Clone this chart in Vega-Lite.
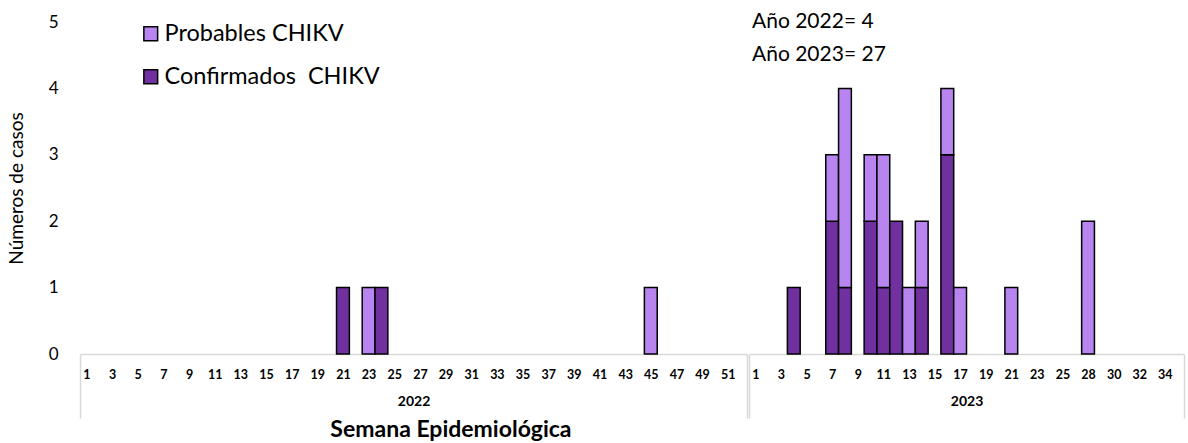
{
  "$schema": "https://vega.github.io/schema/vega-lite/v6.json",
  "padding": {"left": 7, "top": 11, "right": 3, "bottom": 2},
  "config": {"font": "Lato", "view": {"stroke": null}, "concat": {"spacing": 0}},
  "datasets": {
    "casos": [
      {"year": 2022, "week": 21, "tipo": "Confirmados\u00a0 CHIKV", "orden": 1, "casos": 1},
      {"year": 2022, "week": 23, "tipo": "Probables CHIKV", "orden": 2, "casos": 1},
      {"year": 2022, "week": 24, "tipo": "Confirmados\u00a0 CHIKV", "orden": 1, "casos": 1},
      {"year": 2022, "week": 45, "tipo": "Probables CHIKV", "orden": 2, "casos": 1},
      {"year": 2023, "week": 4, "tipo": "Confirmados\u00a0 CHIKV", "orden": 1, "casos": 1},
      {"year": 2023, "week": 7, "tipo": "Confirmados\u00a0 CHIKV", "orden": 1, "casos": 2},
      {"year": 2023, "week": 7, "tipo": "Probables CHIKV", "orden": 2, "casos": 1},
      {"year": 2023, "week": 8, "tipo": "Confirmados\u00a0 CHIKV", "orden": 1, "casos": 1},
      {"year": 2023, "week": 8, "tipo": "Probables CHIKV", "orden": 2, "casos": 3},
      {"year": 2023, "week": 10, "tipo": "Confirmados\u00a0 CHIKV", "orden": 1, "casos": 2},
      {"year": 2023, "week": 10, "tipo": "Probables CHIKV", "orden": 2, "casos": 1},
      {"year": 2023, "week": 11, "tipo": "Confirmados\u00a0 CHIKV", "orden": 1, "casos": 1},
      {"year": 2023, "week": 11, "tipo": "Probables CHIKV", "orden": 2, "casos": 2},
      {"year": 2023, "week": 12, "tipo": "Confirmados\u00a0 CHIKV", "orden": 1, "casos": 2},
      {"year": 2023, "week": 13, "tipo": "Probables CHIKV", "orden": 2, "casos": 1},
      {"year": 2023, "week": 14, "tipo": "Confirmados\u00a0 CHIKV", "orden": 1, "casos": 1},
      {"year": 2023, "week": 14, "tipo": "Probables CHIKV", "orden": 2, "casos": 1},
      {"year": 2023, "week": 16, "tipo": "Confirmados\u00a0 CHIKV", "orden": 1, "casos": 3},
      {"year": 2023, "week": 16, "tipo": "Probables CHIKV", "orden": 2, "casos": 1},
      {"year": 2023, "week": 17, "tipo": "Probables CHIKV", "orden": 2, "casos": 1},
      {"year": 2023, "week": 21, "tipo": "Probables CHIKV", "orden": 2, "casos": 1},
      {"year": 2023, "week": 28, "tipo": "Probables CHIKV", "orden": 2, "casos": 2}
    ],
    "notas": [
      {"week": 1, "valor": 5, "texto": "Año 2022= 4"},
      {"week": 1, "valor": 4.5, "texto": "Año 2023= 27"}
    ]
  },
  "title": {"text": "Semana Epidemiológica", "orient": "bottom", "anchor": "middle", "fontSize": 23, "fontWeight": "bold", "color": "black", "offset": 0, "dx": -145},
  "resolve": {"scale": {"x": "independent", "y": "independent", "color": "shared"}},
  "hconcat": [
    {
      "width": 667,
      "height": 332,
      "data": {"name": "casos"},
      "transform": [{"filter": "datum.year == 2022"}],
      "mark": {"type": "bar", "stroke": "black", "strokeWidth": 1.5},
      "encoding": {
        "x": {
          "field": "week", "type": "ordinal", "title": "2022",
          "scale": {"domain": [1,2,3,4,5,6,7,8,9,10,11,12,13,14,15,16,17,18,19,20,21,22,23,24,25,26,27,28,29,30,31,32,33,34,35,36,37,38,39,40,41,42,43,44,45,46,47,48,49,50,51,52], "paddingInner": 0, "paddingOuter": 0},
          "axis": {
            "values": [1,3,5,7,9,11,13,15,17,19,21,23,25,27,29,31,33,35,37,39,41,43,45,47,49,51,52],
            "labelExpr": "datum.value == 52 ? '' : datum.label",
            "labelAngle": 0, "labelFontSize": 12.5, "labelFontWeight": "bold", "labelColor": "black", "labelOverlap": false,
            "labelPadding": -50,
            "domainColor": "#d9d9d9", "domainWidth": 1.5,
            "tickBand": "extent", "tickColor": "#d9d9d9", "tickWidth": 1.5, "tickSize": 64,
            "tickOpacity": {"condition": {"test": "datum.value == 52 || datum.index < 0", "value": 1}, "value": 0},
            "titleFontSize": 14, "titleFontWeight": "bold", "titleColor": "black", "titlePadding": -24
          }
        },
        "y": {
          "field": "casos", "type": "quantitative", "stack": "zero", "title": "Números de casos",
          "scale": {"domain": [0, 5]},
          "axis": {"values": [0,1,2,3,4,5], "domain": false, "ticks": false, "grid": false, "labelFontSize": 17, "labelColor": "black", "labelPadding": 22, "titleFontSize": 19, "titleFontWeight": "normal", "titleColor": "black", "titlePadding": 22}
        },
        "color": {
          "field": "tipo", "type": "nominal",
          "scale": {"domain": ["Probables CHIKV", "Confirmados\u00a0 CHIKV"], "range": ["#B784F0", "#7030A0"]},
          "legend": {"orient": "none", "legendX": 59, "legendY": 0, "title": null, "symbolType": "square", "symbolSize": 190, "symbolStrokeColor": "black", "symbolStrokeWidth": 1.5, "labelFontSize": 23.5, "labelLimit": 400, "labelColor": "black", "labelOffset": 2, "rowPadding": 18}
        },
        "order": {"field": "orden", "type": "quantitative"}
      }
    },
    {
      "width": 435,
      "height": 332,
      "layer": [
        {
          "data": {"name": "casos"},
          "transform": [{"filter": "datum.year == 2023"}],
          "mark": {"type": "bar", "stroke": "black", "strokeWidth": 1.5},
          "encoding": {
            "x": {
              "field": "week", "type": "ordinal", "title": "2023",
              "scale": {"domain": [1,2,3,4,5,6,7,8,9,10,11,12,13,14,15,16,17,18,19,20,21,22,23,24,25,26,28,29,30,31,32,33,34,35], "paddingInner": 0, "paddingOuter": 0},
              "axis": {
                "values": [1,3,5,7,9,11,13,15,17,19,21,23,25,28,30,32,34,35],
                "labelExpr": "datum.value == 35 ? '' : datum.label",
                "labelAngle": 0, "labelFontSize": 12.5, "labelFontWeight": "bold", "labelColor": "black", "labelOverlap": false,
                "labelPadding": -50,
                "domainColor": "#d9d9d9", "domainWidth": 1.5,
                "tickBand": "extent", "tickColor": "#d9d9d9", "tickWidth": 1.5, "tickSize": 64,
                "tickOpacity": {"condition": {"test": "datum.value == 35 || datum.index < 0", "value": 1}, "value": 0},
                "titleFontSize": 14, "titleFontWeight": "bold", "titleColor": "black", "titlePadding": -24
              }
            },
            "y": {"field": "casos", "type": "quantitative", "stack": "zero", "scale": {"domain": [0, 5]}, "axis": null},
            "color": {"field": "tipo", "type": "nominal"},
            "order": {"field": "orden", "type": "quantitative"}
          }
        },
        {
          "data": {"name": "notas"},
          "mark": {"type": "text", "align": "left", "baseline": "middle", "fontSize": 21, "dx": 3, "color": "black"},
          "encoding": {
            "x": {"field": "week", "type": "ordinal", "bandPosition": 0},
            "y": {"field": "valor", "type": "quantitative", "axis": null},
            "text": {"field": "texto"}
          }
        }
      ]
    }
  ]
}
